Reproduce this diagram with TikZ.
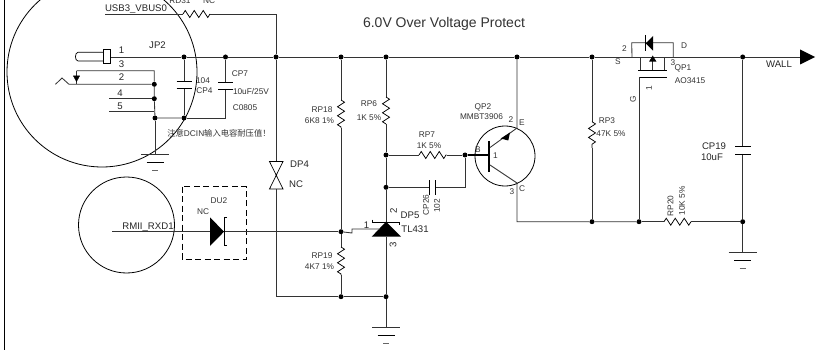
\documentclass[tikz,border=0pt]{standalone}
\usepackage{fontspec}
\setmainfont{Liberation Sans}
\newfontfamily\cjk{Noto Sans CJK SC}
\usetikzlibrary{decorations.pathmorphing}
\tikzset{
	wire/.style={draw=black!80, line width=.85pt},
	res/.style={black, line width=.75pt, decorate, decoration={zigzag,segment length=9,amplitude=3.5}},
	dot/.style={circle, fill=black, inner sep=0, minimum size=5},
	lab/.style={inner sep=0, text=black!80, font=\fontsize{8.3}{9}\selectfont},
	big/.style={inner sep=0, text=black!85, font=\fontsize{9.6}{11}\selectfont},
	gnd/.pic={
		\draw [line width=.8pt, black!80] (-14,0) -- (14,0);
		\draw [line width=.8pt] (-8.5,8.3) -- (8.5,8.3);
		\draw [line width=.8pt, black!60] (-3,16.5) -- (3,16.5);
	}
}
\begin{document}
\begin{tikzpicture}[x=1pt,y=-1pt]
	\clip (0,0) rectangle (822,350);
	\fill [white] (0,0) rectangle (822,350);
	\coordinate (lb1) at (4.5,0);
	\coordinate (lb2) at (4.5,350);
	\draw [line width=.9pt] (lb1) -- (lb2);
	% circles
	\draw [line width=.8pt] (102,72) circle [radius=95];
	\draw [line width=.8pt] (126.5,225) circle [radius=48];
	\draw [line width=.8pt, dashed, dash pattern=on 6pt off 3.5pt] (182,186.7) rectangle (246.7,259);
	% junctions
	\node [dot] (jc4) at (184,57) {};
	\node [dot] (jc7) at (225.5,57) {};
	\node [dot] (jdp) at (276,57) {};
	\node [dot] (jr18) at (341,57) {};
	\node [dot] (jr6) at (386,57) {};
	\node [dot] (je) at (517,57) {};
	\node [dot] (jr3) at (592,57) {};
	\node [dot] (jwall) at (742.7,57) {};
	\node [dot] (j2) at (154.3,84.3) {};
	\node [dot] (j4) at (154.3,98.7) {};
	\node [dot] (jg) at (155,118) {};
	\node [dot] (jc4b) at (184,118) {};
	\node [dot] (jb) at (386,155) {};
	\node [dot] (jq) at (465,155) {};
	\node [dot] (jcp) at (386,187.3) {};
	\node [dot] (jref) at (341,231.7) {};
	\node [dot] (jr19) at (341,296.7) {};
	\node [dot] (jtl) at (386,296.7) {};
	\node [dot] (jr3b) at (592,221.7) {};
	\node [dot] (jgate) at (639,221.7) {};
	\node [dot] (jr20) at (742.7,221.7) {};
	% main rail
	\coordinate (pin1) at (110,57);
	\coordinate (sw) at (632,57);
	\coordinate (dw) at (673.3,57);
	\coordinate (wall) at (800,57);
	\draw [wire] (pin1) -- (jc4) -- (jc7) -- (jdp) -- (jr18) -- (jr6) -- (je) -- (jr3) -- (sw);
	\draw [wire] (dw) -- (jwall) -- (wall);
	\fill (800,49.5) -- (815,57) -- (800,64.5) -- cycle;
	% top wire
	\coordinate (usb) at (105,14);
	\coordinate (rd1) at (183,14);
	\coordinate (rd2) at (210,14);
	\coordinate (top) at (276,14);
	\draw [wire] (usb) -- (rd1);
	\draw [res] (rd1) -- (rd2);
	\draw [wire] (rd2) -- (top) -- (jdp);
	% connector
	\draw [line width=.7pt] (104,52.3) -- (78,52.3) to [out=180,in=180] (78,61) -- (104,61);
	\draw [line width=.8pt, fill=white] (103.7,49.3) rectangle (110.3,63.3);
	\coordinate (p3) at (76.5,70.7);
	\coordinate (p3b) at (154.3,70.7);
	\coordinate (p2) at (76.5,84.3);
	\coordinate (p4) at (109,98.7);
	\coordinate (p5) at (109,111.7);
	\draw [wire] (p3) -- (p3b) -- (j2) -- (j4) -- (jg) -- (jc4b);
	\draw [wire] (55.5,84.3) -- (62,78) -- (69,84.3) -- (p2) -- (j2);
	\draw [wire] (p4) -- (j4);
	\draw [wire] (p5) -- (154.3,111.7);
	\draw [wire] (p3) -- (p2);
	\draw [fill=black, line width=.5pt] (73.5,76) -- (79.5,76) -- (76.5,81.5) -- cycle;
	\coordinate (gnd1) at (155,154);
	\draw [wire] (jg) -- (gnd1);
	\pic at (gnd1) {gnd};
	% CP4 and CP7
	\coordinate (c4a) at (184,81);
	\coordinate (c4b) at (184,88.3);
	\coordinate (c7a) at (225.5,82.7);
	\coordinate (c7b) at (225.5,89);
	\draw [wire] (jc4) -- (c4a);
	\draw [wire] (c4b) -- (jc4b);
	\draw [wire] (jc7) -- (c7a);
	\draw [wire] (c7b) -- (225.5,118) -- (jc4b);
	\draw [line width=.9pt] (176.5,81) -- (192,81) (176.5,88.3) -- (192,88.3);
	\draw [line width=.9pt] (218,82.7) -- (233,82.7) (218,89) -- (233,89);
	% DP4
	\coordinate (dp4a) at (276,161.5);
	\coordinate (dp4b) at (276,189);
	\draw [wire] (jdp) -- (dp4a);
	\draw [line width=.7pt] (269.5,161.5) -- (283,161.5) -- (269.5,189) -- (283,189) -- cycle;
	\draw [wire] (dp4b) -- (276,296.7) -- (jr19) -- (jtl);
	% resistors to ground
	\coordinate (r18a) at (341,100);
	\coordinate (r18b) at (341,128);
	\coordinate (r19a) at (341,247);
	\coordinate (r19b) at (341,275);
	\draw [wire] (jr18) -- (r18a);
	\draw [res] (r18a) -- (r18b);
	\draw [wire] (r18b) -- (jref) -- (r19a);
	\draw [res] (r19a) -- (r19b);
	\draw [wire] (r19b) -- (jr19);
	\coordinate (r6a) at (386,97);
	\coordinate (r6b) at (386,124);
	\draw [wire] (jr6) -- (r6a);
	\draw [res] (r6a) -- (r6b);
	\draw [wire] (r6b) -- (jb) -- (jcp);
	% RP7 and CP26
	\coordinate (r7a) at (419,155);
	\coordinate (r7b) at (446.7,155);
	\coordinate (cpa) at (429.3,187.3);
	\coordinate (cpb) at (435.7,187.3);
	\coordinate (cpc) at (465,187.3);
	\draw [wire] (jb) -- (r7a);
	\draw [res] (r7a) -- (r7b);
	\draw [wire] (r7b) -- (jq);
	\draw [wire] (jcp) -- (cpa);
	\draw [wire] (cpb) -- (cpc) -- (jq);
	\draw [line width=.9pt] (429.3,180) -- (429.3,195) (435.7,180) -- (435.7,195);
	% TL431
	\coordinate (tlk) at (386,221.7);
	\coordinate (tla) at (386,236.7);
	\coordinate (gnd2) at (386,327.3);
	\draw [wire] (jcp) -- (tlk);
	\draw [wire] (tla) -- (jtl) -- (gnd2);
	\pic at (gnd2) {gnd};
	\fill (371.7,236.7) -- (401,236.7) -- (386,221.7) -- cycle;
	\draw [line width=.8pt] (372.5,219.5) -- (372.5,222) -- (399.5,222) -- (399.5,224.5);
	\coordinate (tlr) at (371.7,229);
	\draw [wire] (jref) -- (352,233) -- (352,229) -- (tlr) -- (380,229);
	% QP2
	\draw [line width=.8pt] (505,156) circle [radius=30];
	\coordinate (qb) at (489,155);
	\coordinate (qe) at (517,128);
	\coordinate (qc) at (517,183);
	\coordinate (qcb) at (517,221.7);
	\draw [line width=1.8pt] (489,141) -- (489,172);
	\draw [line width=1.4pt] (jq) -- (qb);
	\draw [wire] (je) -- (qe) -- (490,147.5);
	\draw [wire] (490,165) -- (qc) -- (qcb) -- (jr3b) -- (jgate);
	\fill (500.7,138.5) -- (510,132.5) -- (508.3,140.5) -- cycle;
	% RP20 and CP19
	\coordinate (r20a) at (664,221.7);
	\coordinate (r20b) at (691,221.7);
	\draw [wire] (jgate) -- (r20a);
	\draw [res] (r20a) -- (r20b);
	\draw [wire] (r20b) -- (jr20);
	\coordinate (c19a) at (742.7,146.3);
	\coordinate (c19b) at (742.7,154);
	\coordinate (gnd3) at (742.7,252);
	\draw [wire] (jwall) -- (c19a);
	\draw [wire] (c19b) -- (jr20) -- (gnd3);
	\draw [line width=.9pt] (735,146.3) -- (750.5,146.3) (735,154) -- (750.5,154);
	\pic at (gnd3) {gnd};
	% RP3
	\coordinate (r3a) at (592,121.7);
	\coordinate (r3b) at (592,148);
	\draw [wire] (jr3) -- (r3a);
	\draw [res] (r3a) -- (r3b);
	\draw [wire] (r3b) -- (jr3b);
	% QP1
	\coordinate (gt) at (639,77.3);
	\draw [wire] (sw) -- (631.7,42.7) -- (673.3,42.7) -- (dw);
	\draw [wire] (sw) -- (640,57) -- (640,70) (dw) -- (664.3,57) -- (664.3,70);
	\draw [wire] (640,57) -- (664.3,57);
	\draw [line width=.9pt] (638,70) -- (666.7,70);
	\draw [wire] (652.7,70) -- (652.7,57);
	\fill (649,61.7) -- (656.5,61.7) -- (652.7,55.5) -- cycle;
	\draw [line width=.8pt] (666.7,77.3) -- (gt);
	\draw [wire] (gt) -- (jgate);
	\fill (653,36) -- (653,50.7) -- (645.7,43.3) -- cycle;
	\draw [line width=1.2pt] (645.7,35) -- (645.7,51);
	% signal
	\coordinate (rx) at (112.3,231.7);
	\draw [wire] (rx) -- (jref);
	\fill (210,217.3) -- (224,231.7) -- (210,246) -- cycle;
	\draw [line width=.8pt] (227,217.5) -- (224.5,217.5) -- (224.5,245) -- (227,245);
	% texts
	\node [inner sep=0, text=black!80, font=\fontsize{14}{16}\selectfont] (title) at (444,24) {6.0V Over Voltage Protect};
	\node [big] (tusb) at (136,9.5) {USB3\_VBUS0};
	\node [lab] (trd) at (180,1) {RD31};
	\node [lab] (tnc1) at (209,1) {NC};
	\node [big] (tjp) at (157.5,45.5) {JP2};
	\node [big] (t1) at (121.5,50) {1};
	\node [big] (t3) at (121.5,64) {3};
	\node [big] (t2) at (121.5,77) {2};
	\node [big] (t4) at (120,93.5) {4};
	\node [big] (t5) at (120,106) {5};
	\node [lab] (t104) at (203,81) {104};
	\node [lab] (tcp4) at (204.5,91) {CP4};
	\node [lab] (tcp7) at (240,74) {CP7};
	\node [lab] (tcpv) at (251,92) {10uF/25V};
	\node [lab] (tc0805) at (245,108) {C0805};
	\node [lab] (tnote) at (219,133) {{\cjk 注意}DCIN{\cjk 输入电容耐压值！}};
	\node [big] (tdp4) at (299.5,164) {DP4};
	\node [big] (tnc2) at (296,184) {NC};
	\node [lab] (tr18) at (322,110) {RP18};
	\node [lab] (tr18v) at (319.5,121) {6K8 1\%};
	\node [lab] (tr6) at (369,104) {RP6};
	\node [lab] (tr6v) at (369,117.5) {1K 5\%};
	\node [lab] (tr7) at (427,135) {RP7};
	\node [lab] (tr7v) at (429,146) {1K 5\%};
	\node [lab] (tq) at (483,107) {QP2};
	\node [lab] (tqv) at (481.5,117) {MMBT3906};
	\node [lab] (tq2) at (511,120) {2};
	\node [lab] (tqe) at (522,123) {E};
	\node [lab] (tqb) at (478,150) {B};
	\node [lab] (tq1) at (495.5,156) {1};
	\node [lab] (tq3) at (512,192) {3};
	\node [lab] (tqc) at (522,189) {C};
	\node [lab, rotate=90] (tcp26) at (426,205) {CP26};
	\node [lab, rotate=90] (t102) at (437,206) {102};
	\node [big] (tdp5) at (410,215.5) {DP5};
	\node [big] (ttl) at (415,229) {TL431};
	\node [big] (ttl1) at (366.5,225) {1};
	\node [big, rotate=90] (ttl2) at (393.5,211) {2};
	\node [big, rotate=90] (ttl3) at (393,245) {3};
	\node [lab] (tr19) at (322,256) {RP19};
	\node [lab] (tr19v) at (319.5,267) {4K7 1\%};
	\node [big] (trx) at (148,227) {RMII\_RXD1};
	\node [lab] (tdu) at (219,201) {DU2};
	\node [lab] (tnc3) at (203,212) {NC};
	\node [lab] (tr3) at (607,121) {RP3};
	\node [lab] (tr3v) at (611,134) {47K 5\%};
	\node [lab] (ts2) at (624.5,49) {2};
	\node [lab] (ts) at (618,62) {S};
	\node [lab] (td) at (684,46) {D};
	\node [lab] (td3) at (673,63) {3};
	\node [lab] (tqp1) at (683,68) {QP1};
	\node [lab] (tao) at (690,81) {AO3415};
	\node [lab, rotate=90] (tg1) at (649,88) {1};
	\node [lab, rotate=90] (tg) at (633,99.5) {G};
	\node [big] (tc19) at (714,146.5) {CP19};
	\node [big] (tc19v) at (712,157.5) {10uF};
	\node [big] (twall) at (779,64.5) {WALL};
	\node [lab, rotate=90] (tr20) at (670.5,206) {RP20};
	\node [lab, rotate=90] (tr20v) at (682,201) {10K 5\%};
\end{tikzpicture}
\end{document}
